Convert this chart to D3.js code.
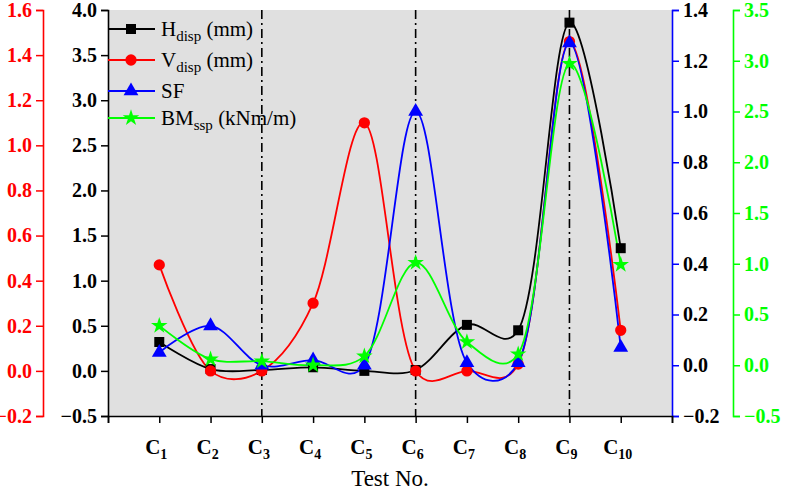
<!DOCTYPE html>
<html>
<head>
<meta charset="utf-8">
<script src="https://cdn.jsdelivr.net/npm/d3@7"></script>
<style>
  html, body { margin: 0; padding: 0; background: #fff; }
  svg { display: block; }
  text { font-family: "Liberation Serif", "Times New Roman", serif; }
</style>
</head>
<body>
<svg id="chart" width="788" height="491"></svg>
<script>
// ---- data ----
const categories = ["1","2","3","4","5","6","7","8","9","10"];
const hDisp  = [0.32, 0.02, 0.01, 0.04, 0.00, 0.01, 0.51, 0.45, 3.86, 1.36];
const vDisp  = [0.47, 0.00, 0.00, 0.30, 1.10, 0.00, 0.00, 0.03, 1.46, 0.18];
const sf     = [0.05, 0.155, 0.00, 0.02, 0.00, 1.00, 0.01, 0.01, 1.27, 0.07];
const bmSsp  = [0.39, 0.06, 0.04, 0.00, 0.09, 1.01, 0.23, 0.11, 2.97, 0.99];
const dividers = [3, 6, 9];
const blackTicks = [-0.5, 0.0, 0.5, 1.0, 1.5, 2.0, 2.5, 3.0, 3.5, 4.0];
const redTicks   = [-0.2, 0.0, 0.2, 0.4, 0.6, 0.8, 1.0, 1.2, 1.4, 1.6];
const blueTicks  = [-0.2, 0.0, 0.2, 0.4, 0.6, 0.8, 1.0, 1.2, 1.4];
const greenTicks = [-0.5, 0.0, 0.5, 1.0, 1.5, 2.0, 2.5, 3.0, 3.5];

// ---- layout ----
const svg = d3.select("#chart");
const L = 108, R = 672, T = 10, B = 416;
const fmt1 = d3.format(".1f");
const minus = s => s.replace("-", "\u2212");

const x = d3.scaleLinear().domain([0, 11]).range([L, R]);
const yBlack = d3.scaleLinear().domain([-0.5, 4.0]).range([B, T]);
const yRed   = d3.scaleLinear().domain([-0.2, 1.6]).range([B, T]);
const yBlue  = d3.scaleLinear().domain([-0.2, 1.4]).range([B, T]);
const yGreen = d3.scaleLinear().domain([-0.5, 3.5]).range([B, T]);

// background
svg.append("rect").attr("x", L).attr("y", T).attr("width", R - L).attr("height", B - T)
  .attr("fill", "#e0e0e0");

// dividers
dividers.forEach(d => {
  svg.append("line").attr("x1", x(d)).attr("x2", x(d)).attr("y1", T).attr("y2", B)
    .attr("stroke", "#000").attr("stroke-width", 1.6).attr("stroke-dasharray", "9,4,2,4");
});

// helper axis builder
function drawAxis(gen, scale, ticks, minorStep, pos, color, labelColor) {
  const g = svg.append("g").attr("transform", pos);
  const minor = d3.range(scale.domain()[0], scale.domain()[1] + 1e-9, minorStep);
  g.call(gen(scale).tickValues(minor).tickSize(4).tickFormat(""));
  g.call(gen(scale).tickValues(ticks).tickSize(7).tickPadding(4).tickFormat(d => minus(fmt1(d))));
  g.attr("font-family", null);
  g.selectAll("path.domain").attr("stroke", color).attr("stroke-width", 1.6);
  g.selectAll(".tick line").attr("stroke", color).attr("stroke-width", 1.5);
  g.selectAll(".tick text").attr("fill", labelColor).attr("font-size", 20).attr("font-weight", "bold")
    .style("font-family", "'Liberation Serif', serif");
  return g;
}
drawAxis(d3.axisLeft, yRed, redTicks, 0.1, "translate(43,0)", "#ff0000", "#ff0000");
drawAxis(d3.axisLeft, yBlack, blackTicks, 0.25, `translate(${L},0)`, "#000", "#000");
drawAxis(d3.axisRight, yBlue, blueTicks, 0.1, `translate(${R},0)`, "#0000ff", "#000");
drawAxis(d3.axisRight, yGreen, greenTicks, 0.25, "translate(733,0)", "#00ff00", "#00ff00");

// x axis
const gx = svg.append("g").attr("transform", `translate(0,${B})`);
gx.call(d3.axisBottom(x).tickValues(d3.range(0.5, 11, 1)).tickSize(4).tickFormat(""));
gx.call(d3.axisBottom(x).tickValues(d3.range(0, 12, 1)).tickSize(7).tickFormat(""));
gx.selectAll("path.domain").attr("stroke", "#000").attr("stroke-width", 1.6);
gx.selectAll(".tick line").attr("stroke", "#000").attr("stroke-width", 1.5);

categories.forEach((c, i) => {
  const t = svg.append("text").attr("x", x(i + 1) - 3).attr("y", 454)
    .attr("text-anchor", "middle").attr("font-size", 21).attr("font-weight", "bold");
  t.append("tspan").text("C");
  t.append("tspan").attr("font-size", 14).attr("dy", 5).text(c);
});
svg.append("text").attr("x", 390).attr("y", 486).attr("text-anchor", "middle")
  .attr("font-size", 23).text("Test No.");

// series
const series = [
  { vals: hDisp, y: yBlack, color: "#000", sym: d3.symbolSquare, size: 100 },
  { vals: vDisp, y: yRed, color: "#ff0000", sym: d3.symbolCircle, size: 100 },
  { vals: sf, y: yBlue, color: "#0000ff", sym: d3.symbolTriangle, size: 95 },
  { vals: bmSsp, y: yGreen, color: "#00ff00", sym: d3.symbolStar, size: 85 }
];
series.forEach(s => {
  const line = d3.line().x((d, i) => x(i + 1)).y(d => s.y(d)).curve(d3.curveCatmullRom.alpha(0.25));
  svg.append("path").datum(s.vals).attr("d", line).attr("fill", "none")
    .attr("stroke", s.color).attr("stroke-width", 1.8);
});
series.forEach(s => {
  svg.append("g").selectAll("path").data(s.vals).join("path")
    .attr("transform", (d, i) => `translate(${x(i + 1)},${s.y(d)})`)
    .attr("d", d3.symbol().type(s.sym).size(s.size)).attr("fill", s.color);
});

// legend
const legend = [
  { main: "H", sub: "disp", rest: " (mm)", y: 29 },
  { main: "V", sub: "disp", rest: " (mm)", y: 60 },
  { main: "SF", sub: "", rest: "", y: 91 },
  { main: "BM", sub: "ssp", rest: " (kNm/m)", y: 118 }
];
legend.forEach((l, i) => {
  const s = series[i];
  svg.append("line").attr("x1", L).attr("x2", 155).attr("y1", l.y).attr("y2", l.y)
    .attr("stroke", s.color).attr("stroke-width", 1.8);
  svg.append("path").attr("transform", `translate(131,${l.y})`)
    .attr("d", d3.symbol().type(s.sym).size(s.size)).attr("fill", s.color);
  const t = svg.append("text").attr("x", 161).attr("y", l.y + 7).attr("font-size", 21);
  t.append("tspan").text(l.main);
  if (l.sub) t.append("tspan").attr("font-size", 15).attr("dy", 5).text(l.sub);
  if (l.rest) t.append("tspan").attr("dy", l.sub ? -5 : 0).text(l.rest);
});
</script>
</body>
</html>
